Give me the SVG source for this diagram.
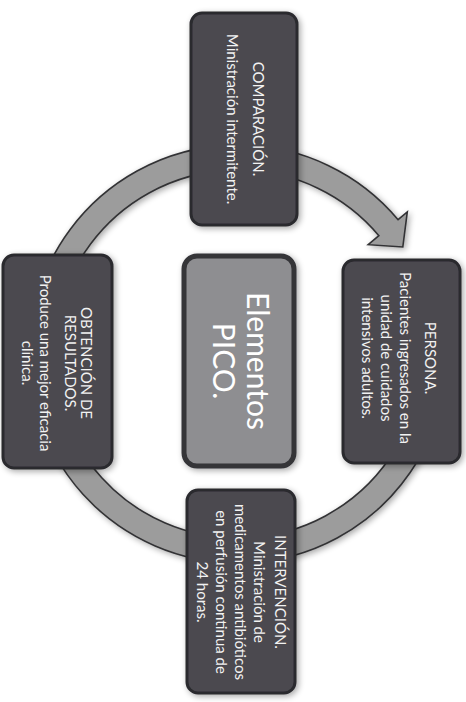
<svg xmlns="http://www.w3.org/2000/svg" width="466" height="702" viewBox="0 0 466 702">
<style>
.box{fill:#4b4a50;stroke:#2a292e;stroke-width:3}
.center{fill:#8e8e91;stroke:#343438;stroke-width:5}
.t{font-family:Lato,"Open Sans","DejaVu Sans",sans-serif;font-size:15px;fill:#f2f2f2;text-anchor:middle}
.big{font-family:Lato,"Open Sans","DejaVu Sans",sans-serif;font-size:30px;fill:#ffffff;text-anchor:middle}
.ring{fill:#9c9c9c;stroke:#333335;stroke-width:1.6}
</style>
<defs>
<filter id="sh" x="-20%" y="-20%" width="140%" height="140%">
<feGaussianBlur in="SourceAlpha" stdDeviation="3"/>
<feOffset dx="2" dy="2" result="b"/>
<feComponentTransfer><feFuncA type="linear" slope="0.35"/></feComponentTransfer>
<feMerge><feMergeNode/><feMergeNode in="SourceGraphic"/></feMerge>
</filter>
</defs>
<rect width="466" height="702" fill="#ffffff"/>
<g id="connectors">
<path class="ring" filter="url(#sh)" d="M443.8,390.3 A209,209 0 1 1 398.1,219.7 L407.3,211.9 L402.8,247 L368.2,244.7 L378.9,235.7 A184,184 0 1 0 419.2,385.9 Z"/>
</g>
<g id="comparacion">
<rect class="box" filter="url(#sh)" x="191" y="13" width="106" height="212" rx="11"/>
<text class="t" transform="translate(253,119) rotate(90)">COMPARACIÓN.</text>
<text class="t" transform="translate(227,119) rotate(90)">Ministración intermitente.</text>
</g>
<g id="persona">
<rect class="box" filter="url(#sh)" x="343" y="260" width="117" height="203" rx="11"/>
<text class="t" transform="translate(425,358) rotate(90)">PERSONA.</text>
<text class="t" transform="translate(400,358) rotate(90)">Pacientes ingresados en la</text>
<text class="t" transform="translate(381,358) rotate(90)">unidad de cuidados</text>
<text class="t" transform="translate(362,358) rotate(90)">intensivos adultos.</text>
</g>
<g id="intervencion">
<rect class="box" filter="url(#sh)" x="187" y="490" width="108" height="203" rx="11"/>
<text class="t" transform="translate(275,592) rotate(90)">INTERVENCIÓN.</text>
<text class="t" transform="translate(254,592) rotate(90)">Ministración de</text>
<text class="t" transform="translate(235,592) rotate(90)">medicamentos antibióticos</text>
<text class="t" transform="translate(216,592) rotate(90)">en perfusión continua de</text>
<text class="t" transform="translate(197,592) rotate(90)">24 horas.</text>
</g>
<g id="obtencion">
<rect class="box" filter="url(#sh)" x="3" y="255" width="109" height="213" rx="11"/>
<text class="t" transform="translate(81,363) rotate(90)">OBTENCIÓN DE</text>
<text class="t" transform="translate(65,363) rotate(90)">RESULTADOS.</text>
<text class="t" transform="translate(40,363) rotate(90)">Produce una mejor eficacia</text>
<text class="t" transform="translate(22,363) rotate(90)">clínica.</text>
</g>
<g id="elementos">
<rect class="center" filter="url(#sh)" x="184" y="256" width="110" height="210" rx="13"/>
<text class="big" transform="translate(247,361) rotate(90)">Elementos</text>
<text class="big" transform="translate(213,361) rotate(90)">PICO.</text>
</g>
</svg>
